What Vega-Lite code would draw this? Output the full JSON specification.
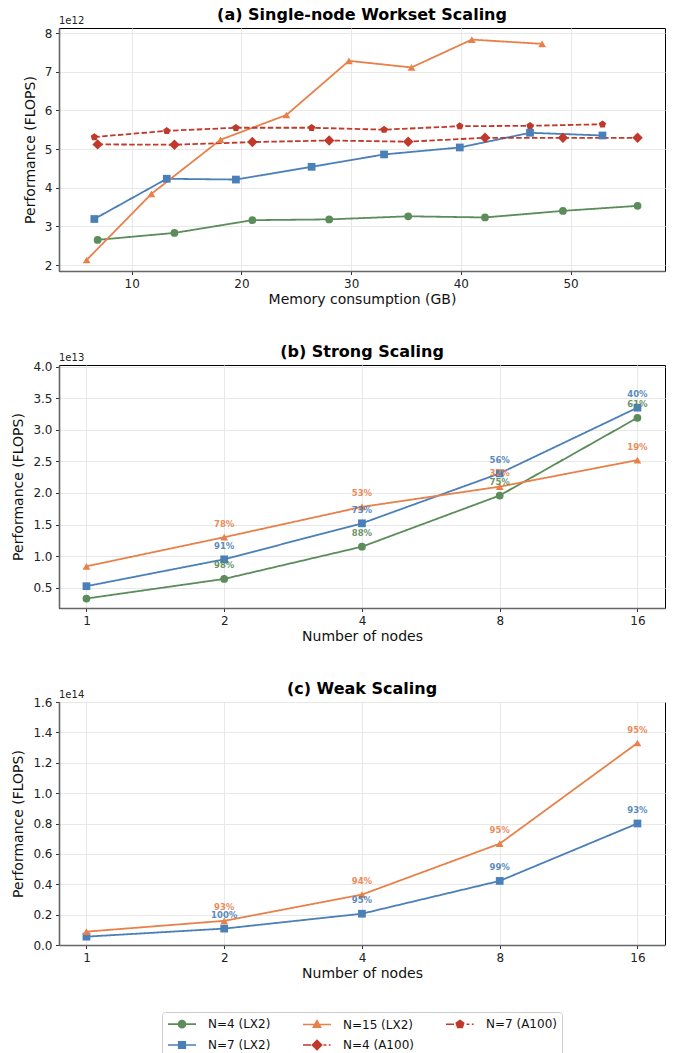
{
  "$schema": "https://vega.github.io/schema/vega-lite/v6.json",
  "padding": {"left": 11, "top": 6, "right": 5, "bottom": 2},
  "config": {
    "font": "DejaVu Sans",
    "view": {"stroke": "#000000", "strokeWidth": 1},
    "axis": {
      "domainColor": "#666666", "domainWidth": 1.6,
      "tickColor": "#333333", "tickSize": 3.5, "tickWidth": 1,
      "labelFontSize": 12, "labelColor": "#222222", "labelPadding": 3.5, "labelOverlap": false,
      "titleFontSize": 14, "titleFontWeight": "normal", "titleColor": "#111111",
      "gridColor": "#e8e8e8", "gridWidth": 1
    },
    "axisX": {"titlePadding": 3},
    "axisY": {"titlePadding": 7},
    "title": {"fontSize": 16, "fontWeight": "bold", "anchor": "middle", "offset": -7, "frame": "group", "color": "#000000"},
    "legend": {"layout": {"bottom": {"anchor": "middle"}}}
  },
  "spacing": 36,
  "datasets": {
    "a": [
      {"series": "N=4 (LX2)", "gb": 6.9, "flops": 2.65e12},
      {"series": "N=4 (LX2)", "gb": 13.9, "flops": 2.83e12},
      {"series": "N=4 (LX2)", "gb": 21.0, "flops": 3.16e12},
      {"series": "N=4 (LX2)", "gb": 28.0, "flops": 3.18e12},
      {"series": "N=4 (LX2)", "gb": 35.2, "flops": 3.26e12},
      {"series": "N=4 (LX2)", "gb": 42.2, "flops": 3.23e12},
      {"series": "N=4 (LX2)", "gb": 49.3, "flops": 3.40e12},
      {"series": "N=4 (LX2)", "gb": 56.1, "flops": 3.53e12},
      {"series": "N=7 (LX2)", "gb": 6.6, "flops": 3.19e12},
      {"series": "N=7 (LX2)", "gb": 13.2, "flops": 4.23e12},
      {"series": "N=7 (LX2)", "gb": 19.5, "flops": 4.21e12},
      {"series": "N=7 (LX2)", "gb": 26.4, "flops": 4.54e12},
      {"series": "N=7 (LX2)", "gb": 33.0, "flops": 4.86e12},
      {"series": "N=7 (LX2)", "gb": 39.9, "flops": 5.04e12},
      {"series": "N=7 (LX2)", "gb": 46.3, "flops": 5.42e12},
      {"series": "N=7 (LX2)", "gb": 52.9, "flops": 5.35e12},
      {"series": "N=15 (LX2)", "gb": 5.9, "flops": 2.13e12},
      {"series": "N=15 (LX2)", "gb": 11.8, "flops": 3.84e12},
      {"series": "N=15 (LX2)", "gb": 18.1, "flops": 5.24e12},
      {"series": "N=15 (LX2)", "gb": 24.1, "flops": 5.88e12},
      {"series": "N=15 (LX2)", "gb": 29.8, "flops": 7.28e12},
      {"series": "N=15 (LX2)", "gb": 35.5, "flops": 7.11e12},
      {"series": "N=15 (LX2)", "gb": 41.0, "flops": 7.83e12},
      {"series": "N=15 (LX2)", "gb": 47.4, "flops": 7.72e12},
      {"series": "N=4 (A100)", "gb": 6.9, "flops": 5.12e12},
      {"series": "N=4 (A100)", "gb": 13.9, "flops": 5.11e12},
      {"series": "N=4 (A100)", "gb": 21.0, "flops": 5.18e12},
      {"series": "N=4 (A100)", "gb": 28.0, "flops": 5.22e12},
      {"series": "N=4 (A100)", "gb": 35.2, "flops": 5.19e12},
      {"series": "N=4 (A100)", "gb": 42.2, "flops": 5.29e12},
      {"series": "N=4 (A100)", "gb": 49.3, "flops": 5.29e12},
      {"series": "N=4 (A100)", "gb": 56.1, "flops": 5.29e12},
      {"series": "N=7 (A100)", "gb": 6.6, "flops": 5.31e12},
      {"series": "N=7 (A100)", "gb": 13.2, "flops": 5.47e12},
      {"series": "N=7 (A100)", "gb": 19.5, "flops": 5.55e12},
      {"series": "N=7 (A100)", "gb": 26.4, "flops": 5.55e12},
      {"series": "N=7 (A100)", "gb": 33.0, "flops": 5.50e12},
      {"series": "N=7 (A100)", "gb": 39.9, "flops": 5.59e12},
      {"series": "N=7 (A100)", "gb": 46.3, "flops": 5.60e12},
      {"series": "N=7 (A100)", "gb": 52.9, "flops": 5.64e12}
    ],
    "b": [
      {"series": "N=4 (LX2)", "nodes": 1, "flops": 0.33e13},
      {"series": "N=4 (LX2)", "nodes": 2, "flops": 0.64e13, "eff": 0.98},
      {"series": "N=4 (LX2)", "nodes": 4, "flops": 1.15e13, "eff": 0.88},
      {"series": "N=4 (LX2)", "nodes": 8, "flops": 1.96e13, "eff": 0.75},
      {"series": "N=4 (LX2)", "nodes": 16, "flops": 3.19e13, "eff": 0.61},
      {"series": "N=7 (LX2)", "nodes": 1, "flops": 0.525e13},
      {"series": "N=7 (LX2)", "nodes": 2, "flops": 0.95e13, "eff": 0.91},
      {"series": "N=7 (LX2)", "nodes": 4, "flops": 1.52e13, "eff": 0.73},
      {"series": "N=7 (LX2)", "nodes": 8, "flops": 2.31e13, "eff": 0.56},
      {"series": "N=7 (LX2)", "nodes": 16, "flops": 3.35e13, "eff": 0.40},
      {"series": "N=15 (LX2)", "nodes": 1, "flops": 0.84e13},
      {"series": "N=15 (LX2)", "nodes": 2, "flops": 1.30e13, "eff": 0.78},
      {"series": "N=15 (LX2)", "nodes": 4, "flops": 1.78e13, "eff": 0.53},
      {"series": "N=15 (LX2)", "nodes": 8, "flops": 2.10e13, "eff": 0.32},
      {"series": "N=15 (LX2)", "nodes": 16, "flops": 2.52e13, "eff": 0.19}
    ],
    "c": [
      {"series": "N=7 (LX2)", "nodes": 1, "flops": 0.055e14},
      {"series": "N=7 (LX2)", "nodes": 2, "flops": 0.108e14, "eff": 1.0},
      {"series": "N=7 (LX2)", "nodes": 4, "flops": 0.206e14, "eff": 0.95},
      {"series": "N=7 (LX2)", "nodes": 8, "flops": 0.422e14, "eff": 0.99},
      {"series": "N=7 (LX2)", "nodes": 16, "flops": 0.80e14, "eff": 0.93},
      {"series": "N=15 (LX2)", "nodes": 1, "flops": 0.088e14},
      {"series": "N=15 (LX2)", "nodes": 2, "flops": 0.159e14, "eff": 0.93},
      {"series": "N=15 (LX2)", "nodes": 4, "flops": 0.332e14, "eff": 0.94},
      {"series": "N=15 (LX2)", "nodes": 8, "flops": 0.667e14, "eff": 0.95},
      {"series": "N=15 (LX2)", "nodes": 16, "flops": 1.33e14, "eff": 0.95}
    ],
    "offa": [{"t": "1e12"}],
    "offb": [{"t": "1e13"}],
    "offc": [{"t": "1e14"}]
  },
  "vconcat": [
    {
      "title": "(a) Single-node Workset Scaling",
      "width": 606, "height": 243,
      "layer": [
        {
          "data": {"name": "a"},
          "mark": {"type": "line", "strokeWidth": 1.8},
          "encoding": {
            "x": {"field": "gb", "type": "quantitative", "scale": {"domain": [3.38, 58.6], "nice": false, "zero": false},
                  "axis": {"title": "Memory consumption (GB)", "tickCount": 20, "values": [10, 20, 30, 40, 50], "format": "d"}},
            "y": {"field": "flops", "type": "quantitative", "scale": {"domain": [1.845e12, 8.13e12], "nice": false, "zero": false},
                  "axis": {"title": "Performance (FLOPS)", "tickCount": 20, "labelOverlap": false, "values": [2e12, 3e12, 4e12, 5e12, 6e12, 7e12, 8e12], "labelExpr": "format(datum.value/1e12, 'd')"}},
            "color": {"field": "series", "type": "nominal",
              "scale": {"domain": ["N=4 (LX2)", "N=15 (LX2)", "N=7 (A100)", "N=7 (LX2)", "N=4 (A100)"],
                        "range": ["#5b8c5a", "#e8804a", "#c0392b", "#4a7fb8", "#c0392b"]},
              "legend": {
                "title": null, "orient": "bottom", "direction": "horizontal", "columns": 3, "offset": 31,
                "symbolSize": 144, "symbolStrokeWidth": 1.6, "labelFontSize": 12, "labelColor": "#111111",
                "labelOffset": 27, "columnPadding": 28, "rowPadding": 6,
                "strokeColor": "#cccccc", "cornerRadius": 3, "padding": 5, "fillColor": "#ffffff",
                "encode": {"symbols": {"update": {
                  "shape": {"signal": "datum.value === 'N=4 (LX2)' ? 'M-1,0H3.667M1.916,0A0.583,0.583,0,1,1,0.75,0A0.583,0.583,0,1,1,1.916,0Z' : datum.value === 'N=7 (LX2)' ? 'M-1,0H3.667M0.783,-0.55H1.883V0.55H0.783Z' : datum.value === 'N=15 (LX2)' ? 'M-1,0H3.667M1.333,-0.65L1.933,0.45L0.733,0.45Z' : datum.value === 'N=4 (A100)' ? 'M-1,0H0.333M0.75,0H2M2.417,0H2.9M3.3,0H3.6M1.333,-0.78L2.113,0L1.333,0.78L0.553,0Z' : 'M-1,0H0.333M0.75,0H2M2.417,0H2.9M3.3,0H3.6M1.333,-0.65L1.951,-0.201L1.715,0.526L0.951,0.526L0.715,-0.201Z'"},
                  "fill": {"scale": "color", "field": "value"},
                  "stroke": {"scale": "color", "field": "value"},
                  "strokeDash": {"value": []},
                  "strokeWidth": {"value": 1.6},
                  "opacity": {"value": 1}
                }}}
              }},
            "strokeDash": {"field": "series", "type": "nominal", "legend": null,
              "scale": {"domain": ["N=7 (A100)", "N=4 (A100)", "N=4 (LX2)", "N=7 (LX2)", "N=15 (LX2)"],
                        "range": [[5.5, 2.4], [5.5, 2.4], [1, 0], [1, 0], [1, 0]]}}
          }
        },
        {
          "data": {"name": "a"},
          "mark": {"type": "point", "filled": true, "size": 60, "opacity": 1},
          "encoding": {
            "x": {"field": "gb", "type": "quantitative"},
            "y": {"field": "flops", "type": "quantitative"},
            "color": {"field": "series", "type": "nominal"},
            "shape": {"field": "series", "type": "nominal", "legend": null,
              "scale": {"domain": ["N=4 (LX2)", "N=7 (LX2)", "N=15 (LX2)", "N=4 (A100)", "N=7 (A100)"],
                        "range": ["circle", "square", "triangle-up", "M0,-1.35L1.35,0L0,1.35L-1.35,0Z", "M0,-1L0.951,-0.309L0.588,0.809L-0.588,0.809L-0.951,-0.309Z"]}}
          }
        },
        {
          "data": {"name": "offa"},
          "mark": {"type": "text", "align": "left", "baseline": "bottom", "dy": -2, "fontSize": 10, "color": "#222222"},
          "encoding": {
            "x": {"datum": 3.38, "type": "quantitative"},
            "y": {"datum": 8.13e12, "type": "quantitative"},
            "text": {"field": "t"}
          }
        }
      ]
    },
    {
      "title": "(b) Strong Scaling",
      "width": 606, "height": 243,
      "layer": [
        {
          "data": {"name": "b"},
          "mark": {"type": "line", "strokeWidth": 1.8},
          "encoding": {
            "x": {"field": "nodes", "type": "quantitative", "scale": {"type": "log", "base": 2, "domain": [0.871, 18.38], "nice": false},
                  "axis": {"title": "Number of nodes", "tickCount": 20, "values": [1, 2, 4, 8, 16], "format": "d"}},
            "y": {"field": "flops", "type": "quantitative", "scale": {"domain": [0.18e13, 4.025e13], "nice": false, "zero": false},
                  "axis": {"title": "Performance (FLOPS)", "tickCount": 20, "labelOverlap": false, "values": [0.5e13, 1e13, 1.5e13, 2e13, 2.5e13, 3e13, 3.5e13, 4e13], "labelExpr": "format(datum.value/1e13, '.1f')"}},
            "color": {"field": "series", "type": "nominal"},
            "strokeDash": {"field": "series", "type": "nominal", "legend": null}
          }
        },
        {
          "data": {"name": "b"},
          "mark": {"type": "point", "filled": true, "size": 60, "opacity": 1},
          "encoding": {
            "x": {"field": "nodes", "type": "quantitative"},
            "y": {"field": "flops", "type": "quantitative"},
            "color": {"field": "series", "type": "nominal"},
            "shape": {"field": "series", "type": "nominal", "legend": null}
          }
        },
        {
          "data": {"name": "b"},
          "transform": [{"filter": {"field": "eff", "valid": true}}],
          "mark": {"type": "text", "fontSize": 8.5, "fontWeight": "bold", "baseline": "middle", "dy": -13.5, "opacity": 0.9},
          "encoding": {
            "x": {"field": "nodes", "type": "quantitative"},
            "y": {"field": "flops", "type": "quantitative"},
            "color": {"field": "series", "type": "nominal"},
            "text": {"field": "eff", "type": "quantitative", "format": ".0%"}
          }
        },
        {
          "data": {"name": "offb"},
          "mark": {"type": "text", "align": "left", "baseline": "bottom", "dy": -2, "fontSize": 10, "color": "#222222"},
          "encoding": {
            "x": {"datum": 0.871, "type": "quantitative"},
            "y": {"datum": 4.025e13, "type": "quantitative"},
            "text": {"field": "t"}
          }
        }
      ]
    },
    {
      "title": "(c) Weak Scaling",
      "width": 606, "height": 243,
      "layer": [
        {
          "data": {"name": "c"},
          "mark": {"type": "line", "strokeWidth": 1.8},
          "encoding": {
            "x": {"field": "nodes", "type": "quantitative", "scale": {"type": "log", "base": 2, "domain": [0.871, 18.38], "nice": false},
                  "axis": {"title": "Number of nodes", "tickCount": 20, "values": [1, 2, 4, 8, 16], "format": "d"}},
            "y": {"field": "flops", "type": "quantitative", "scale": {"domain": [0, 1.6e14], "nice": false, "zero": false},
                  "axis": {"title": "Performance (FLOPS)", "tickCount": 20, "labelOverlap": false, "values": [0, 0.2e14, 0.4e14, 0.6e14, 0.8e14, 1e14, 1.2e14, 1.4e14, 1.6e14], "labelExpr": "format(datum.value/1e14, '.1f')"}},
            "color": {"field": "series", "type": "nominal"},
            "strokeDash": {"field": "series", "type": "nominal", "legend": null}
          }
        },
        {
          "data": {"name": "c"},
          "mark": {"type": "point", "filled": true, "size": 60, "opacity": 1},
          "encoding": {
            "x": {"field": "nodes", "type": "quantitative"},
            "y": {"field": "flops", "type": "quantitative"},
            "color": {"field": "series", "type": "nominal"},
            "shape": {"field": "series", "type": "nominal", "legend": null}
          }
        },
        {
          "data": {"name": "c"},
          "transform": [{"filter": {"field": "eff", "valid": true}}],
          "mark": {"type": "text", "fontSize": 8.5, "fontWeight": "bold", "baseline": "middle", "dy": -13.5, "opacity": 0.9},
          "encoding": {
            "x": {"field": "nodes", "type": "quantitative"},
            "y": {"field": "flops", "type": "quantitative"},
            "color": {"field": "series", "type": "nominal"},
            "text": {"field": "eff", "type": "quantitative", "format": ".0%"}
          }
        },
        {
          "data": {"name": "offc"},
          "mark": {"type": "text", "align": "left", "baseline": "bottom", "dy": -2, "fontSize": 10, "color": "#222222"},
          "encoding": {
            "x": {"datum": 0.871, "type": "quantitative"},
            "y": {"datum": 1.6e14, "type": "quantitative"},
            "text": {"field": "t"}
          }
        }
      ]
    }
  ]
}
